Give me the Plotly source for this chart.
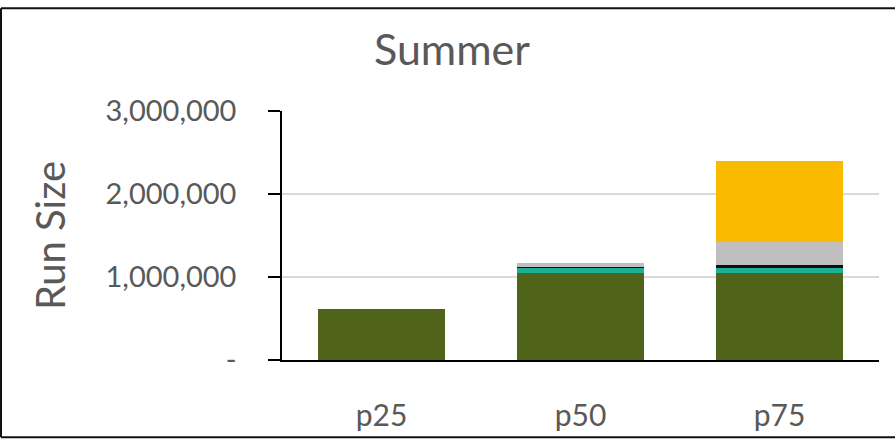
import plotly.graph_objects as go

categories = ["p25", "p50", "p75"]
series_names = ["Series 1", "Series 2", "Series 3", "Series 4", "Series 5"]
series_1 = [612000, 1043000, 1043000]
series_2 = [0, 71000, 71000]
series_3 = [0, 12000, 28000]
series_4 = [0, 47000, 281000]
series_5 = [0, 0, 975000]
series_colors = ["#506419", "#1AB096", "#0D0D0D", "#BFBFBF", "#FABA00"]
y_tickvals = [0, 1000000, 2000000, 3000000]
y_ticktext = ["-", "1,000,000", "2,000,000", "3,000,000"]

W, H = 895, 444
ML, MR, MT, MB = 282, 16, 111, 80
FONT = "Lato"
GREY = "#595959"

fig = go.Figure()
for name, vals, col in zip(series_names,
                           [series_1, series_2, series_3, series_4, series_5],
                           series_colors):
    fig.add_trace(go.Bar(x=categories, y=vals, name=name,
                         marker=dict(color=col, line=dict(width=0))))

pw = W - ML - MR
ph = H - MT - MB
def px_x(p):
    return (p - ML) / pw
def px_y(p):
    return (H - MB - p) / ph

border = dict(color="#111111", width=2)
shapes = [
    dict(type="line", xref="paper", yref="paper", x0=px_x(1), x1=px_x(W), y0=px_y(6.5), y1=px_y(6.5), line=border),
    dict(type="line", xref="paper", yref="paper", x0=px_x(1), x1=px_x(1), y0=px_y(6.5), y1=px_y(442.5), line=border),
    dict(type="line", xref="paper", yref="paper", x0=px_x(1), x1=px_x(W), y0=px_y(442.5), y1=px_y(442.5), line=border),
]

fig.update_layout(
    width=W, height=H,
    margin=dict(l=ML, r=MR, t=MT, b=MB, pad=0),
    barmode="stack",
    bargap=0.357,
    showlegend=False,
    paper_bgcolor="white",
    plot_bgcolor="white",
    font=dict(family=FONT, color=GREY),
    title=dict(text="Summer", x=0.505, xanchor="center", y=1 - 50 / H, yanchor="middle",
               font=dict(family=FONT, size=43, color=GREY)),
    shapes=shapes,
    xaxis=dict(
        showline=True, linecolor="black", linewidth=1.5,
        ticks="", showgrid=False,
        tickfont=dict(family=FONT, size=30, color=GREY),
        ticklabelstandoff=28,
    ),
    yaxis=dict(
        range=[0, 3000000],
        tickvals=y_tickvals, ticktext=y_ticktext,
        showline=True, linecolor="black", linewidth=1.5,
        ticks="outside", ticklen=12, tickcolor="black", tickwidth=1.5,
        showgrid=True, gridcolor="#D9D9D9", gridwidth=1.5,
        zeroline=False,
        tickfont=dict(family=FONT, size=29, color=GREY),
        ticklabelstandoff=26,
        title=dict(text="Run Size", font=dict(family=FONT, size=40, color=GREY), standoff=28),
    ),
)

fig.write_html("out.html",
               config={"displayModeBar": False},
               post_script="document.body.style.margin='0';document.body.style.overflow='hidden';")
